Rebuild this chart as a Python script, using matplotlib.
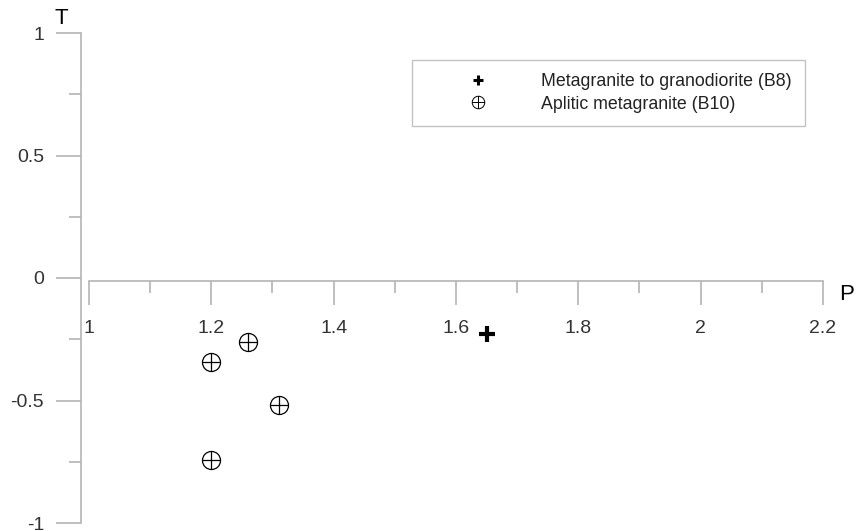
import matplotlib
matplotlib.use("Agg")
import matplotlib.pyplot as plt
from matplotlib.path import Path
from matplotlib.lines import Line2D

plt.rcParams['font.family'] = ['Liberation Sans', 'DejaVu Sans']

# Sample compositions in the P-T plane
p_b8 = [1.65]
t_b8 = [-0.23]
p_b10 = [1.26, 1.20, 1.31, 1.20]
t_b10 = [-0.26, -0.343, -0.518, -0.743]

labels = ["Metagranite to granodiorite (B8)", "Aplitic metagranite (B10)"]
x_major = [1, 1.2, 1.4, 1.6, 1.8, 2, 2.2]
x_minor = [1.1, 1.3, 1.5, 1.7, 1.9, 2.1]
y_major = [-1, -0.5, 0, 0.5, 1]
y_minor = [-0.75, -0.25, 0.25, 0.75]

axis_grey = "#b4b4b4"
text_grey = "#333333"

# circle with a cross inside
circ = Path.unit_circle()
cross = Path([[-1, 0], [1, 0], [0, -1], [0, 1]],
             [Path.MOVETO, Path.LINETO, Path.MOVETO, Path.LINETO])
oplus = Path.make_compound_path(circ, cross)

W, H = 857, 531
fig = plt.figure(figsize=(W / 100, H / 100), dpi=100)
ax = fig.add_axes([81 / W, (H - 523) / H, (823 - 81) / W, (523 - 33) / H])
ax.set_xlim(1 - 8 / 612, 2.2)
ax.set_ylim(-1, 1)

for s in ["top", "right"]:
    ax.spines[s].set_visible(False)
ax.spines["bottom"].set_position(("data", -0.012))
ax.spines["bottom"].set_bounds(1, 2.2)
ax.spines["left"].set_bounds(-1, 1)
for s in ["bottom", "left"]:
    ax.spines[s].set_color(axis_grey)
    ax.spines[s].set_linewidth(1.2)

ax.set_xticks(x_major)
ax.set_xticklabels(["1", "1.2", "1.4", "1.6", "1.8", "2", "2.2"])
ax.set_xticks(x_minor, minor=True)
ax.set_yticks(y_major)
ax.set_yticklabels(["-1", "-0.5", "0", "0.5", "1"])
ax.set_yticks(y_minor, minor=True)

ax.tick_params(axis="x", which="major", direction="out", length=17.3, width=1.2,
               color=axis_grey, labelcolor=text_grey, labelsize=14, pad=11)
ax.tick_params(axis="x", which="minor", direction="out", length=8.6, width=1.2,
               color=axis_grey)
ax.tick_params(axis="y", which="major", direction="out", length=18, width=1.2,
               color=axis_grey, labelcolor=text_grey, labelsize=14, pad=8.6)
ax.tick_params(axis="y", which="minor", direction="out", length=8.6, width=1.2,
               color=axis_grey)

ax.plot(p_b8, t_b8, linestyle="none", marker="+", markersize=11,
        markeredgewidth=3, color="black", clip_on=False)
ax.plot(p_b10, t_b10, linestyle="none", marker=oplus, markersize=13,
        markerfacecolor="none", markeredgecolor="black", markeredgewidth=0.9,
        clip_on=False)

ax.text(0.954, 1.061, "T", fontsize=16, color="black", ha="center", va="center",
        clip_on=False)
ax.text(2.2386, -0.069, "P", fontsize=16, color="black", ha="center", va="center",
        clip_on=False)

handles = [
    Line2D([], [], linestyle="none", marker="+", markersize=7,
           markeredgewidth=2.2, color="black"),
    Line2D([], [], linestyle="none", marker=oplus, markersize=9,
           markerfacecolor="none", markeredgecolor="black",
           markeredgewidth=0.7),
]
leg = fig.legend(handles, labels, loc="upper left",
                 bbox_to_anchor=(412 / W, 1 - 60 / H), borderaxespad=0,
                 fontsize=12.8, frameon=True, fancybox=False, shadow=False,
                 handlelength=5.9, handletextpad=0.6, borderpad=0.75,
                 labelspacing=0.3, labelcolor="#222222")
leg.get_frame().set_edgecolor(axis_grey)
leg.get_frame().set_linewidth(1.0)

fig.savefig("out.png", dpi=100)
